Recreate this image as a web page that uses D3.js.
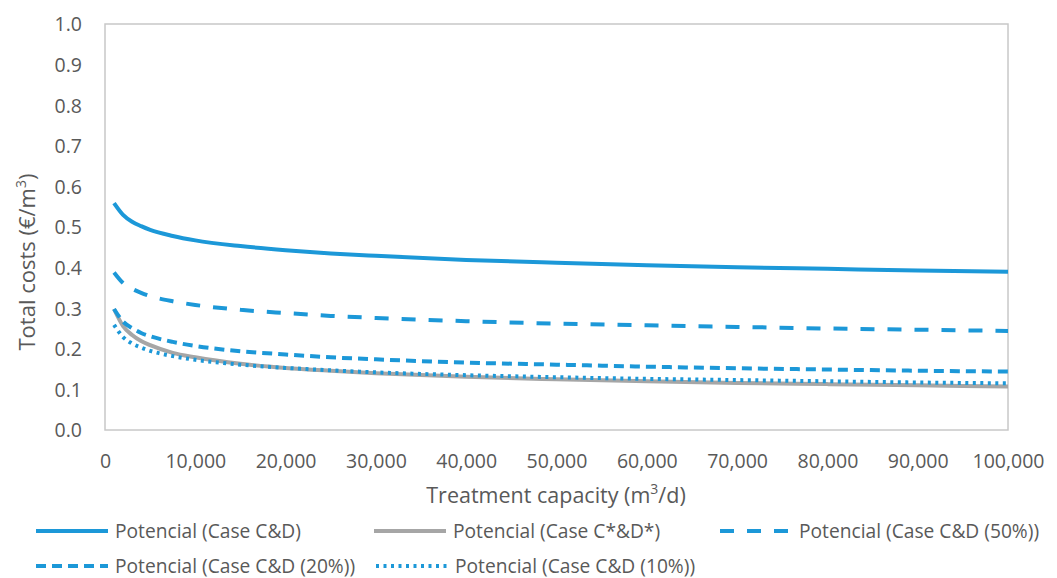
<!DOCTYPE html>
<html>
<head>
<meta charset="utf-8">
<script src="https://cdn.jsdelivr.net/npm/d3@7"></script>
<style>
  html, body { margin: 0; padding: 0; background: #fff; }
  svg text { font-family: "Open Sans", "Noto Sans", sans-serif; fill: #595959; }
</style>
</head>
<body>
<svg id="chart" width="1057" height="578"></svg>
<script>
// Treatment capacity (m3/d) sample points
const capacity = [1000, 2000, 3000, 4000, 5000, 7500, 10000, 15000, 20000, 25000,
                  30000, 40000, 50000, 60000, 70000, 80000, 90000, 100000];

// Total costs (€/m3) per scenario
const caseCD    = [0.559, 0.530, 0.513, 0.502, 0.493, 0.478, 0.467, 0.453, 0.443, 0.435,
                   0.429, 0.419, 0.412, 0.406, 0.401, 0.397, 0.393, 0.390];
const caseCsDs  = [0.298, 0.256, 0.234, 0.219, 0.209, 0.190, 0.179, 0.163, 0.153, 0.146,
                   0.140, 0.131, 0.125, 0.120, 0.116, 0.113, 0.110, 0.107];
const caseCD50  = [0.388, 0.362, 0.348, 0.338, 0.330, 0.317, 0.308, 0.296, 0.288, 0.281,
                   0.276, 0.268, 0.262, 0.258, 0.254, 0.250, 0.247, 0.244];
const caseCD20  = [0.298, 0.267, 0.251, 0.239, 0.231, 0.217, 0.207, 0.194, 0.186, 0.179,
                   0.174, 0.166, 0.161, 0.156, 0.152, 0.149, 0.146, 0.144];
const caseCD10  = [0.259, 0.229, 0.213, 0.203, 0.195, 0.182, 0.173, 0.161, 0.153, 0.147,
                   0.142, 0.135, 0.130, 0.126, 0.123, 0.120, 0.117, 0.115];

const seriesNames = ["Potencial (Case C&D)", "Potencial (Case C*&D*)", "Potencial (Case C&D (50%))",
                     "Potencial (Case C&D (20%))", "Potencial (Case C&D (10%))"];

const xTicks = [0, 10000, 20000, 30000, 40000, 50000, 60000, 70000, 80000, 90000, 100000];
const yTicks = [0, 0.1, 0.2, 0.3, 0.4, 0.5, 0.6, 0.7, 0.8, 0.9, 1.0];

const BLUE = "#1c98d8", GRAY = "#a6a6a6";
const styles = [
  { color: BLUE, dash: null },
  { color: GRAY, dash: null },
  { color: BLUE, dash: "14,13" },
  { color: BLUE, dash: "10,6" },
  { color: BLUE, dash: "3,4.5" }
];
const seriesValues = [caseCD, caseCsDs, caseCD50, caseCD20, caseCD10];

const svg = d3.select("#chart");
const plot = { left: 105, right: 1008, top: 24, bottom: 430 };

const x = d3.scaleLinear().domain([0, 100000]).range([plot.left, plot.right]);
const y = d3.scaleLinear().domain([0, 1]).range([plot.bottom, plot.top]);

// plot frame
svg.append("rect")
  .attr("x", plot.left).attr("y", plot.top)
  .attr("width", plot.right - plot.left).attr("height", plot.bottom - plot.top)
  .attr("fill", "none").attr("stroke", "#c8c8c8").attr("stroke-width", 1.5);

// y axis labels
const yAxis = d3.axisLeft(y).tickValues(yTicks).tickFormat(d3.format(".1f")).tickSize(0).tickPadding(0);
const gy = svg.append("g").attr("transform", "translate(82,0)").call(yAxis);
gy.select(".domain").remove();
gy.selectAll("text").attr("font-size", 19.5).attr("fill", "#595959")
  .style("font-family", '"Open Sans", sans-serif').attr("dy", "0.35em");

// x axis labels
const xAxis = d3.axisBottom(x).tickValues(xTicks).tickFormat(d3.format(",")).tickSize(0).tickPadding(0);
const gx = svg.append("g").attr("transform", "translate(0,454)").call(xAxis);
gx.select(".domain").remove();
gx.selectAll("text").attr("font-size", 19.5).attr("fill", "#595959")
  .style("font-family", '"Open Sans", sans-serif').attr("dy", "0.71em");

// axis titles
const yt = svg.append("text")
  .attr("transform", "translate(35,262) rotate(-90)")
  .attr("text-anchor", "middle").attr("font-size", 22);
yt.append("tspan").text("Total costs (€/m");
yt.append("tspan").attr("font-size", 14).attr("baseline-shift", "super").text("3");
yt.append("tspan").text(")");

const xt = svg.append("text")
  .attr("x", 556).attr("y", 503)
  .attr("text-anchor", "middle").attr("font-size", 21.5);
xt.append("tspan").text("Treatment capacity (m");
xt.append("tspan").attr("font-size", 14).attr("baseline-shift", "super").text("3");
xt.append("tspan").text("/d)");

// series curves
const line = d3.line()
  .x((d, i) => x(capacity[i]))
  .y(d => y(d))
  .curve(d3.curveMonotoneX);

seriesValues.forEach((vals, k) => {
  svg.append("path")
    .datum(vals)
    .attr("d", line)
    .attr("fill", "none")
    .attr("stroke", styles[k].color)
    .attr("stroke-width", 4)
    .attr("stroke-dasharray", styles[k].dash);
});

// legend
const legendPos = [
  { x: 36, y: 531 }, { x: 374, y: 531 }, { x: 720, y: 531 },
  { x: 36, y: 566 }, { x: 376, y: 566 }
];
seriesNames.forEach((name, k) => {
  const p = legendPos[k];
  svg.append("line")
    .attr("x1", p.x).attr("x2", p.x + 72)
    .attr("y1", p.y).attr("y2", p.y)
    .attr("stroke", styles[k].color).attr("stroke-width", 4)
    .attr("stroke-dasharray", styles[k].dash);
  svg.append("text")
    .attr("x", p.x + 79).attr("y", p.y).attr("dy", "0.35em")
    .attr("font-size", 19.2).text(name);
});
</script>
</body>
</html>
